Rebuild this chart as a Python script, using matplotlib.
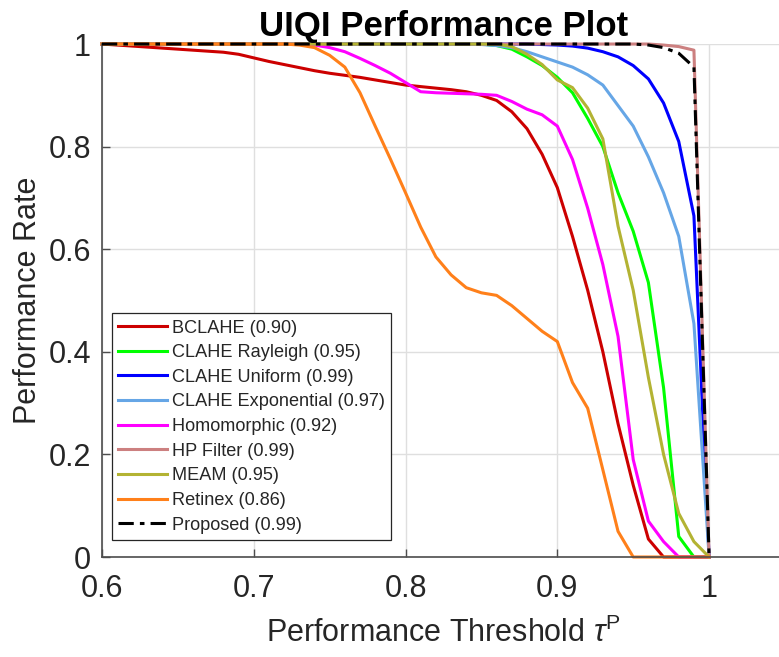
import numpy as np
import matplotlib.pyplot as plt
from matplotlib.ticker import FormatStrFormatter

plt.rcParams['font.family'] = ['Liberation Sans', 'DejaVu Sans']
plt.rcParams['mathtext.fontset'] = 'custom'
plt.rcParams['mathtext.rm'] = 'Liberation Sans'
plt.rcParams['mathtext.it'] = 'Liberation Sans:italic'

# thresholds 0.60 ... 1.00
thr = np.round(np.arange(0.60, 1.001, 0.01), 2)

bclahe = [1.0, 0.998, 0.996, 0.994, 0.992, 0.99, 0.988, 0.986, 0.984, 0.98,
          0.973, 0.966, 0.96, 0.954, 0.948, 0.943, 0.939, 0.935, 0.93, 0.925,
          0.92, 0.917, 0.914, 0.911, 0.907, 0.90, 0.89, 0.868, 0.835, 0.785,
          0.72, 0.625, 0.52, 0.40, 0.26, 0.14, 0.035, 0.0, 0.0, 0.0, 0.0]
rayleigh = [1.0] * 26 + [0.997, 0.99, 0.975, 0.958, 0.935, 0.905, 0.855, 0.80,
                         0.71, 0.635, 0.535, 0.33, 0.04, 0.0, 0.0]
uniform = [1.0] * 29 + [0.999, 0.998, 0.996, 0.992, 0.985, 0.975, 0.958,
                        0.932, 0.885, 0.81, 0.665, 0.0]
exponential = [1.0] * 25 + [0.999, 0.997, 0.993, 0.985, 0.975, 0.965, 0.955,
                            0.94, 0.92, 0.88, 0.84, 0.78, 0.71, 0.625, 0.455, 0.0]
homomorphic = [1.0] * 14 + [0.998, 0.993, 0.985, 0.972, 0.958, 0.943, 0.925,
                            0.907, 0.905, 0.904, 0.903, 0.902, 0.90, 0.888,
                            0.873, 0.862, 0.84, 0.775, 0.68, 0.57, 0.43, 0.19,
                            0.07, 0.03, 0.0, 0.0, 0.0]
hp_filter = [1.0] * 37 + [0.998, 0.995, 0.988, 0.0]
meam = [1.0] * 27 + [0.995, 0.98, 0.96, 0.93, 0.915, 0.875, 0.815, 0.645,
                     0.52, 0.35, 0.20, 0.085, 0.03, 0.0]
retinex = [1.0] * 13 + [0.998, 0.993, 0.978, 0.955, 0.905, 0.84, 0.776,
                        0.71, 0.643, 0.585, 0.55, 0.525, 0.515, 0.51, 0.49,
                        0.465, 0.44, 0.42, 0.34, 0.29, 0.17, 0.05, 0.0,
                        0.0, 0.0, 0.0, 0.0, 0.0]
proposed = [1.0] * 36 + [0.998, 0.993, 0.982, 0.955, 0.0]

names = ['BCLAHE (0.90)', 'CLAHE Rayleigh (0.95)', 'CLAHE Uniform (0.99)',
         'CLAHE Exponential (0.97)', 'Homomorphic (0.92)', 'HP Filter (0.99)',
         'MEAM (0.95)', 'Retinex (0.86)', 'Proposed (0.99)']
series = [bclahe, rayleigh, uniform, exponential, homomorphic, hp_filter,
          meam, retinex, proposed]
colors = ['#CC0000', '#00FF00', '#0000FF', '#66A6E6', '#FF00FF', '#CC8080',
          '#B3B333', '#FF801A', 'black']

fig = plt.figure(figsize=(7.79, 6.57), dpi=100)
ax = fig.add_axes([0.1309, 0.1522, 0.8768, 0.7808])

for y, c, lab in zip(series, colors, names):
    if lab.startswith('Proposed'):
        ax.plot(thr, y, color=c, lw=2.2, dashes=(5, 2, 1.5, 2), label=lab,
                clip_on=False, zorder=5)
    else:
        ax.plot(thr, y, color=c, lw=2.2, label=lab, clip_on=False)

ax.set_xlim(0.6, 1.05)
ax.set_ylim(0, 1)
ax.set_xticks([0.6, 0.7, 0.8, 0.9, 1.0])
ax.set_yticks([0, 0.2, 0.4, 0.6, 0.8, 1.0])
ax.xaxis.set_major_formatter(FormatStrFormatter('%g'))
ax.yaxis.set_major_formatter(FormatStrFormatter('%g'))
ax.grid(True, color='#dfdfdf', lw=1.0)
ax.set_axisbelow(True)

for s in ['top', 'right']:
    ax.spines[s].set_visible(False)
for s in ['left', 'bottom']:
    ax.spines[s].set_color('#4d4d4d')
    ax.spines[s].set_linewidth(1.2)
ax.tick_params(direction='in', length=5.5, width=1.0, color='#4d4d4d',
               labelsize=22, labelcolor='#262626')
ax.tick_params(axis='x', pad=12)
ax.tick_params(axis='y', pad=8)

ax.set_title('UIQI Performance Plot', fontsize=25, fontweight='bold', pad=6)
ax.set_xlabel(r'Performance Threshold $\tau^{\mathrm{P}}$', fontsize=22,
              color='#262626', labelpad=10)
ax.set_ylabel('Performance Rate', fontsize=22, color='#262626', labelpad=4)

leg = ax.legend(loc='lower left', bbox_to_anchor=(0.014, 0.033), fontsize=13.1,
                frameon=True, fancybox=False, framealpha=1, edgecolor='#262626',
                handlelength=2.7, handletextpad=0.25, labelspacing=0.42,
                borderpad=0.35, borderaxespad=0)
leg.get_frame().set_linewidth(0.9)
for t in leg.get_texts():
    t.set_color('#262626')

fig.savefig('out.png', dpi=100)
